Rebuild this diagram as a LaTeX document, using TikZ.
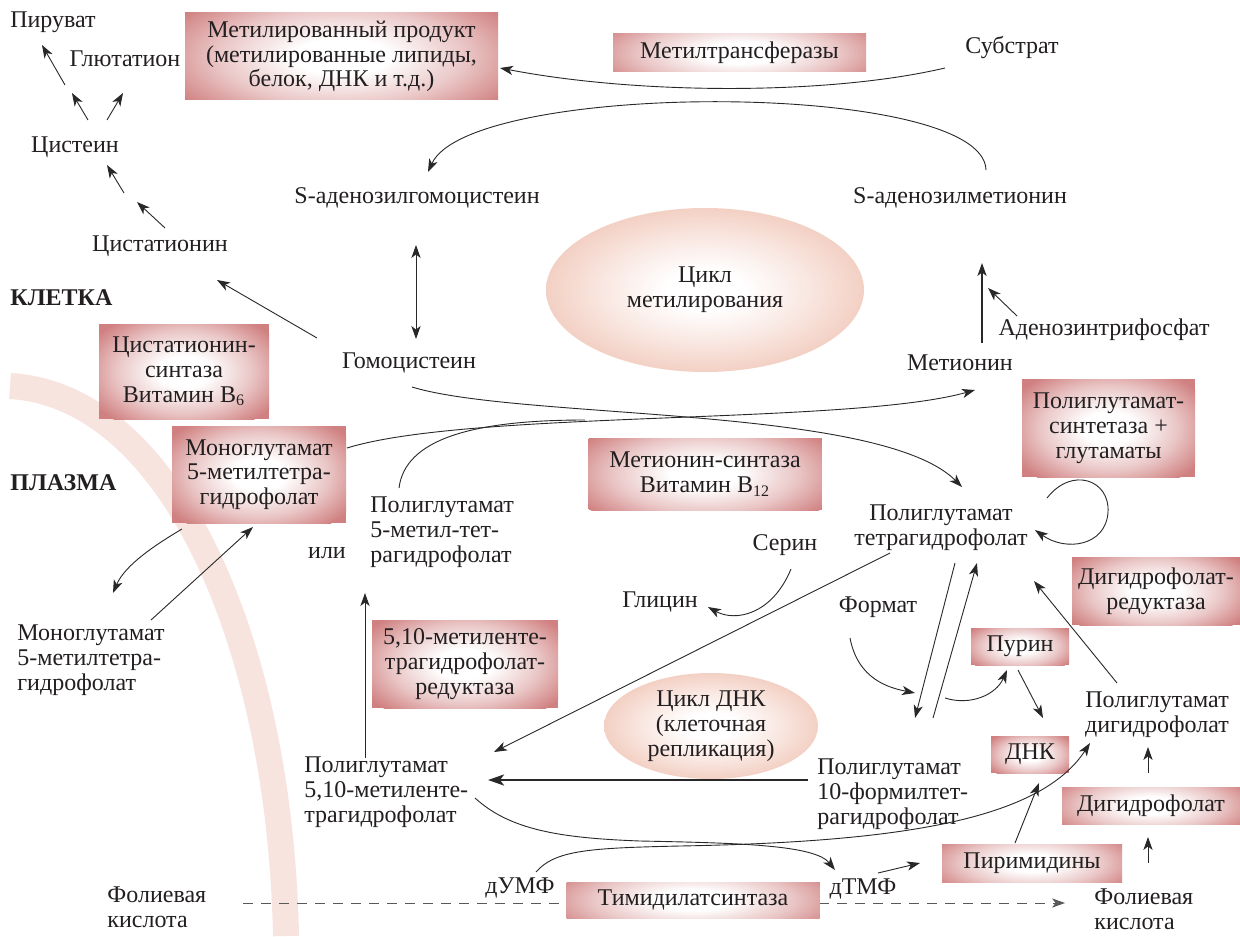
\documentclass[tikz,border=0pt]{standalone}
\usepackage{fontspec}
\setmainfont{Liberation Serif}
\usetikzlibrary{arrows.meta,shapes.geometric,calc}
\definecolor{boxc}{RGB}{208,128,128}
\definecolor{ellc}{RGB}{243,208,196}
\definecolor{bandc}{RGB}{248,228,223}
\definecolor{txt}{RGB}{35,31,32}
\definecolor{lnc}{RGB}{40,40,40}
\colorlet{boxm}{boxc!45!white}
\colorlet{ellm}{ellc!50!white}
\pgfdeclareradialshading{boxshade}{\pgfpoint{0bp}{0bp}}{color(0bp)=(white); color(6bp)=(white); color(16bp)=(boxm); color(25bp)=(boxc); color(50bp)=(boxc)}
\pgfdeclareradialshading{ellshade}{\pgfpoint{0bp}{0bp}}{color(0bp)=(white); color(6bp)=(white); color(16bp)=(ellm); color(25bp)=(ellc); color(50bp)=(ellc)}
\pgfdeclarelayer{bg}
\pgfsetlayers{bg,main}
\begin{document}
\begin{tikzpicture}[x=0.5pt,y=-0.5pt,
  every node/.style={text=txt, font=\fontsize{12}{12.4}\selectfont},
  lbl/.style={inner sep=0pt, align=center},
  lbll/.style={inner sep=0pt, align=left},
  enz/.style={fill=boxc, inner sep=1pt, align=center,
    path picture={\shade[shading=boxshade] let \p1=(path picture bounding box.south west), \p2=(path picture bounding box.north east) in (path picture bounding box.center) ellipse ({0.62*(\x2-\x1)} and {0.5*(\y2-\y1)+0.1*(\x2-\x1)});}},
  cyc/.style={ellipse, shade, shading=ellshade, inner sep=0pt, align=center},
  arr/.style={draw=lnc, line width=0.45pt, -{Stealth[length=6.5pt,width=4.6pt,inset=1.8pt]}},
  plain/.style={draw=lnc, line width=0.45pt},
]
\useasboundingbox (0,0) rectangle (1240,936);

% background band (cell membrane)
\begin{pgfonlayer}{bg}
\fill[white] (0,0) rectangle (1240,936);
\coordinate (bandA) at (10,386);
\coordinate (bandB) at (286,936);
\draw[bandc, line width=13pt] (bandA) .. controls (170,395) and (280,640) .. (bandB);
\end{pgfonlayer}

% ---------- text nodes ----------
\node[lbl] (piruvat) at (53,22) {Пируват};
\node[lbl] (glut) at (125,59) {Глютатион};
\node[lbl] (cyst) at (75,147) {Цистеин};
\node[lbl] (cystat) at (160,246) {Цистатионин};
\node[lbl, anchor=west, font=\fontsize{12}{12.4}\selectfont\bfseries] (kletka) at (10,298) {КЛЕТКА};
\node[lbl, anchor=west, font=\fontsize{12}{12.4}\selectfont\bfseries] (plazma) at (10,483) {ПЛАЗМА};
\node[lbl] (substrat) at (1012,48) {Субстрат};
\node[lbl] (sah) at (417,198) {S-аденозилгомоцистеин};
\node[lbl] (sam) at (960,198) {S-аденозилметионин};
\node[lbl] (homocys) at (409,363) {Гомоцистеин};
\node[lbl] (methionine) at (960,363) {Метионин};
\node[lbl] (atp) at (1104,330) {Аденозинтрифосфат};
\node[lbll, anchor=west] (polymet) at (370,532) {Полиглутамат\\5-метил-тет-\\рагидрофолат};
\node[lbl] (ili) at (327,553) {или};
\node[lbl] (ptgf) at (941,528) {Полиглутамат\\тетрагидрофолат};
\node[lbl] (serin) at (785,545) {Серин};
\node[lbl] (glicin) at (660,602) {Глицин};
\node[lbl] (format) at (878,607) {Формат};
\node[lbll, anchor=west] (monoplain) at (17,660) {Моноглутамат\\5-метилтетра-\\гидрофолат};
\node[lbl] (pdhf) at (1157,715) {Полиглутамат\\дигидрофолат};
\node[lbll, anchor=west] (p510) at (304,792) {Полиглутамат\\5,10-метиленте-\\трагидрофолат};
\node[lbll, anchor=west] (p10f) at (817,794) {Полиглутамат\\10-формилтет-\\рагидрофолат};
\node[lbl] (dump) at (520,888) {дУМФ};
\node[lbl] (dtmp) at (863,889) {дТМФ};
\node[lbll, anchor=west] (fol1) at (107,907) {Фолиевая\\кислота};
\node[lbll, anchor=west] (fol2) at (1094,909) {Фолиевая\\кислота};

% ---------- cycles ----------
\node[cyc, minimum width=159pt, minimum height=82pt] (metcycle) at (705,290) {Цикл\\метилирования};
\node[cyc, minimum width=107pt, minimum height=53pt] (dnacycle) at (711,726) {Цикл ДНК\\(клеточная\\репликация)};

% ---------- dashed folic acid line ----------
\begin{pgfonlayer}{bg}
\coordinate (dashA) at (243,903);
\coordinate (dashB) at (1065,903);
\draw[draw=black!65, line width=0.5pt, dash pattern=on 5pt off 4pt, -{Stealth[length=6.5pt,width=4.6pt,inset=1.8pt]}] (dashA) -- (dashB);
\end{pgfonlayer}

% ---------- enzyme boxes ----------
\node[enz, minimum width=156.5pt, minimum height=43.5pt] (metprod) at (341.5,56.5) {Метилированный продукт\\(метилированные липиды,\\белок, ДНК и т.д.)};
\node[enz, minimum width=126.5pt, minimum height=19pt] (mtrans) at (739.5,53) {Метилтрансферазы};
\node[enz, minimum width=85pt, minimum height=47.5pt] (cbs) at (184,371.5) {Цистатионин-\\синтаза\\Витамин B\textsubscript{6}};
\node[enz, minimum width=87pt, minimum height=48.5pt] (monobox) at (259,474.5) {Моноглутамат\\5-метилтетра-\\гидрофолат};
\node[enz, minimum width=116.5pt, minimum height=36pt] (ms) at (705,474) {Метионин-синтаза\\Витамин B\textsubscript{12}};
\node[enz, minimum width=86.5pt, minimum height=49pt] (pgs) at (1108.5,428) {Полиглутамат-\\синтетаза +\\глутаматы};
\node[enz, minimum width=84pt, minimum height=34pt] (dhfr) at (1156,591) {Дигидрофолат-\\редуктаза};
\node[enz, minimum width=49pt, minimum height=18.5pt] (purin) at (1020,646.5) {Пурин};
\node[enz, minimum width=93pt, minimum height=44pt] (mthfr) at (465,664) {5,10-метиленте-\\трагидрофолат-\\редуктаза};
\node[enz, minimum width=39pt, minimum height=18.5pt] (dnk) at (1030,754.5) {ДНК};
\node[enz, minimum width=89pt, minimum height=18.5pt] (dhf) at (1151,805.5) {Дигидрофолат};
\node[enz, minimum width=90pt, minimum height=19pt] (pyr) at (1032,863) {Пиримидины};
\node[enz, minimum width=126.5pt, minimum height=18pt] (ts) at (693,900) {Тимидилатсинтаза};

% ---------- connector end points ----------
\coordinate (cP1a) at (88,120);  \coordinate (cP1b) at (72,93);
\coordinate (cP2a) at (65,85);   \coordinate (cP2b) at (42,45);
\coordinate (cGa) at (107,120);  \coordinate (cGb) at (123,93);
\coordinate (cC1a) at (124,193); \coordinate (cC1b) at (107,165);
\coordinate (cC2a) at (165,228); \coordinate (cC2b) at (137,202);
\coordinate (cHa) at (317,338);  \coordinate (cHb) at (217,280);
\coordinate (cSa) at (945,68);   \coordinate (cSb) at (500,68);
\coordinate (cAa) at (986,170);  \coordinate (cAb) at (428,172);
\coordinate (cDa) at (416,245);  \coordinate (cDb) at (416,339);
\coordinate (cMa) at (982,343);  \coordinate (cMb) at (982,263);
\coordinate (cTa) at (1017,316); \coordinate (cTb) at (988,288);
\coordinate (cHPa) at (412,387); \coordinate (cHPb) at (962,487);
\coordinate (cBMa) at (347,448); \coordinate (cBMb) at (975,390);
\coordinate (cPMa) at (399,488); \coordinate (cPMb) at (585,420);
\coordinate (cMoa) at (182,529); \coordinate (cMob) at (113,593);
\coordinate (cMpa) at (151,620); \coordinate (cMpb) at (253,527);
\coordinate (cVa) at (365,758);  \coordinate (cVb) at (365,593);
\coordinate (cTPa) at (890,553); \coordinate (cTPb) at (494,752);
\coordinate (cFa) at (808,780);  \coordinate (cFb) at (488,780);
\coordinate (cSGa) at (791,569); \coordinate (cSGb) at (708,607);
\coordinate (cFoa) at (850,638); \coordinate (cFob) at (915,693);
\coordinate (cDna) at (955,563); \coordinate (cDnb) at (915,718);
\coordinate (cUpa) at (933,718); \coordinate (cUpb) at (977,563);
\coordinate (cPua) at (945,698); \coordinate (cPub) at (1007,670);
\coordinate (cPDa) at (1018,670);\coordinate (cPDb) at (1043,718);
\coordinate (cRa) at (1117,683); \coordinate (cRb) at (1034,581);
\coordinate (cLa) at (1047,498); \coordinate (cLb) at (1035,530);
\coordinate (cYa) at (1015,843); \coordinate (cYb) at (1039,783);
\coordinate (cDHa) at (1148,773);\coordinate (cDHb) at (1148,747);
\coordinate (cFLa) at (1148,863);\coordinate (cFLb) at (1148,837);
\coordinate (cTTa) at (475,798); \coordinate (cTTb) at (835,870);
\coordinate (cUDa) at (536,872); \coordinate (cUDb) at (1090,743);
\coordinate (cTPya) at (878,873);\coordinate (cTPyb) at (920,863);

% ---------- connectors ----------
\draw[arr] (cP1a) -- (cP1b);
\draw[arr] (cP2a) -- (cP2b);
\draw[arr] (cGa) -- (cGb);
\draw[arr] (cC1a) -- (cC1b);
\draw[arr] (cC2a) -- (cC2b);
\draw[arr] (cHa) -- (cHb);
\draw[arr] (cSa) .. controls (830,95) and (640,95) .. (cSb);
\draw[arr] (cAa) .. controls (984,80) and (470,80) .. (cAb);
\draw[arr, {Stealth[length=6.5pt,width=4.6pt,inset=1.8pt]}-{Stealth[length=6.5pt,width=4.6pt,inset=1.8pt]}] (cDa) -- (cDb);
\draw[arr, line width=0.6pt] (cMa) -- (cMb);
\draw[arr] (cTa) -- (cTb);
\draw[arr] (cHPa) .. controls (520,420) and (880,405) .. (cHPb);
\draw[arr] (cBMa) .. controls (470,410) and (850,425) .. (cBMb);
\draw[plain] (cPMa) .. controls (405,440) and (470,420) .. (cPMb);
\draw[arr] (cMoa) .. controls (155,545) and (125,565) .. (cMob);
\draw[arr] (cMpa) -- (cMpb);
\draw[arr] (cVa) -- (cVb);
\draw[arr] (cTPa) -- (cTPb);
\draw[draw=lnc, line width=1.3pt, -{Stealth[length=8pt,width=5.5pt,inset=2pt]}] (cFa) -- (cFb);
\draw[arr] (cSGa) .. controls (772,615) and (735,622) .. (cSGb);
\draw[arr] (cFoa) .. controls (858,680) and (890,688) .. (cFob);
\draw[arr] (cDna) -- (cDnb);
\draw[arr] (cUpa) -- (cUpb);
\draw[arr] (cPua) .. controls (970,706) and (996,695) .. (cPub);
\draw[arr] (cPDa) -- (cPDb);
\draw[arr] (cRa) -- (cRb);
\draw[arr] (cLa) .. controls (1072,466) and (1110,480) .. (1108,512) .. controls (1106,546) and (1066,552) .. (cLb);
\draw[arr] (cYa) -- (cYb);
\draw[arr] (cDHa) -- (cDHb);
\draw[arr] (cFLa) -- (cFLb);
\draw[arr] (cTTa) .. controls (510,830) and (560,838) .. (640,841) .. controls (740,843) and (815,845) .. (cTTb);
\draw[arr] (cUDa) .. controls (555,850) and (590,848) .. (680,846) .. controls (900,842) and (1040,820) .. (cUDb);
\draw[arr] (cTPya) -- (cTPyb);
\end{tikzpicture}
\end{document}
